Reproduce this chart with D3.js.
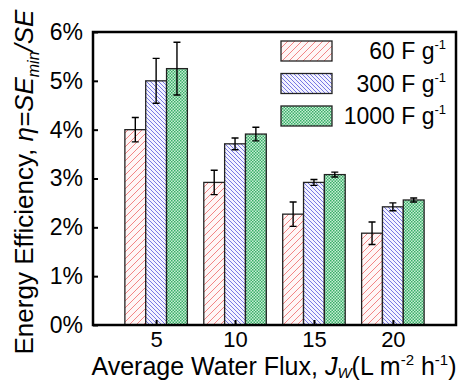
<!DOCTYPE html>
<html>
<head>
<meta charset="utf-8">
<script src="https://cdn.jsdelivr.net/npm/d3@7"></script>
<style>
  body { margin: 0; background: #fff; }
  text { font-family: "Liberation Sans", Arial, sans-serif; fill: #000; }
</style>
</head>
<body>
<div id="graf"></div>
<script>
// datos
fluxes = [5, 10, 15, 20]
series = ['60 F g', '300 F g', '1000 F g']
valores = [
  [4.0, 2.92, 2.27, 1.88],
  [5.0, 3.71, 2.92, 2.42],
  [5.25, 3.91, 3.08, 2.56]
]
errores = [
  [0.25, 0.25, 0.25, 0.23],
  [0.46, 0.12, 0.06, 0.08],
  [0.54, 0.14, 0.05, 0.04]
]
yTicks = [0, 1, 2, 3, 4, 5, 6]

// configuracion
ancho_total = 471
alto_total = 382
margins = { top: 32, left: 93, right: 15, bottom: 57 }
ancho = ancho_total - margins.left - margins.right
alto = alto_total - margins.top - margins.bottom

svg = d3.select('#graf').append('svg')
  .attr('width', ancho_total)
  .attr('height', alto_total)

defs = svg.append('defs')

// patrones
p1 = defs.append('pattern').attr('id', 'p0')
  .attr('patternUnits', 'userSpaceOnUse').attr('width', 7).attr('height', 7)
p1.append('rect').attr('width', 7).attr('height', 7).attr('fill', '#fff6f6')
p1.append('path').attr('d', 'M-1,8 L8,-1 M-2,2 L2,-2 M5,9 L9,5')
  .attr('stroke', '#f07878').attr('stroke-width', 0.9)

p2 = defs.append('pattern').attr('id', 'p1')
  .attr('patternUnits', 'userSpaceOnUse').attr('width', 4).attr('height', 4)
p2.append('rect').attr('width', 4).attr('height', 4).attr('fill', '#f3f3ff')
p2.append('path').attr('d', 'M-1,-1 L5,5 M-1,3 L1,5 M3,-1 L5,1')
  .attr('stroke', '#6a6ae0').attr('stroke-width', 0.9)

p3 = defs.append('pattern').attr('id', 'p2')
  .attr('patternUnits', 'userSpaceOnUse').attr('width', 3).attr('height', 3)
p3.append('rect').attr('width', 3).attr('height', 3).attr('fill', '#c8eed6')
p3.append('rect').attr('width', 1.5).attr('height', 1.5).attr('fill', '#3aae68')
p3.append('rect').attr('x', 1.5).attr('y', 1.5).attr('width', 1.5).attr('height', 1.5).attr('fill', '#3aae68')

g = svg.append('g')
  .attr('transform', `translate(${margins.left}, ${margins.top})`)

// escaladores
x = d3.scaleLinear().domain([1, 24]).range([0, ancho])
y = d3.scaleLinear().domain([0, 6]).range([alto, 0])
barW = x(1.32) - x(0)
offs = [-1, 0, 1]

// barras
series.forEach((s, i) => {
  g.selectAll('.bar' + i)
    .data(fluxes)
    .join('rect')
    .attr('x', (d, j) => x(d) + offs[i] * barW - barW / 2)
    .attr('y', (d, j) => y(valores[i][j]))
    .attr('width', barW)
    .attr('height', (d, j) => alto - y(valores[i][j]))
    .attr('fill', `url(#p${i})`)
    .attr('stroke', '#222')
    .attr('stroke-width', 1.3)
})

// barras de error
series.forEach((s, i) => {
  fluxes.forEach((f, j) => {
    cx = x(f) + offs[i] * barW
    hi = y(valores[i][j] + errores[i][j])
    lo = y(valores[i][j] - errores[i][j])
    g.append('path')
      .attr('d', `M${cx},${hi} L${cx},${lo} M${cx - 3.5},${hi} L${cx + 3.5},${hi} M${cx - 3.5},${lo} L${cx + 3.5},${lo}`)
      .attr('stroke', '#000').attr('stroke-width', 1.4).attr('fill', 'none')
  })
})

// ejes
yAxis = g.append('g')
  .call(d3.axisLeft(y).tickValues(yTicks).tickSize(-5).tickPadding(10).tickFormat(d => d + '%'))
yAxis.selectAll('text').style('font-size', '23px')
xAxis = g.append('g')
  .attr('transform', `translate(0, ${alto})`)
  .call(d3.axisBottom(x).tickValues(fluxes).tickSize(-5).tickPadding(6))
xAxis.selectAll('text').style('font-size', '22px')
svg.selectAll('.domain').remove()
svg.selectAll('.tick line').attr('stroke', '#000').attr('stroke-width', 2)

// marco
g.append('rect')
  .attr('width', ancho).attr('height', alto)
  .attr('fill', 'none').attr('stroke', '#000').attr('stroke-width', 2.5)

// leyenda
ley = svg.append('g')
series.forEach((s, i) => {
  yy = 41 + i * 32.5
  ley.append('rect')
    .attr('x', 281).attr('y', yy).attr('width', 51).attr('height', 20)
    .attr('fill', `url(#p${i})`).attr('stroke', '#222').attr('stroke-width', 1.3)
  t = ley.append('text')
    .attr('x', 446).attr('y', yy + 18)
    .attr('text-anchor', 'end')
    .style('font-size', '23px')
  t.append('tspan').text(s)
  t.append('tspan').attr('dy', -10).style('font-size', '13px').text('-1')
})

// titulos
tx = svg.append('text')
  .attr('x', 274).attr('y', 375)
  .attr('text-anchor', 'middle')
  .style('font-size', '25px')
tx.append('tspan').text('Average Water Flux, ')
tx.append('tspan').style('font-style', 'italic').text('J')
tx.append('tspan').attr('dy', 3).style('font-size', '15px').style('font-style', 'italic').text('W')
tx.append('tspan').attr('dy', -3).text('(L m')
tx.append('tspan').attr('dy', -10).style('font-size', '15px').text('-2')
tx.append('tspan').attr('dy', 10).text(' h')
tx.append('tspan').attr('dy', -10).style('font-size', '15px').text('-1')
tx.append('tspan').attr('dy', 10).text(')')

ty = svg.append('text')
  .attr('transform', 'translate(33, 182) rotate(-90)')
  .attr('text-anchor', 'middle')
  .style('font-size', '26px')
ty.append('tspan').text('Energy Efficiency, ')
ty.append('tspan').style('font-style', 'italic').text('η=SE')
ty.append('tspan').attr('dy', 6).style('font-size', '16px').style('font-style', 'italic').text('min')
ty.append('tspan').attr('dy', -6).style('font-style', 'italic').text('/SE')
</script>
</body>
</html>
